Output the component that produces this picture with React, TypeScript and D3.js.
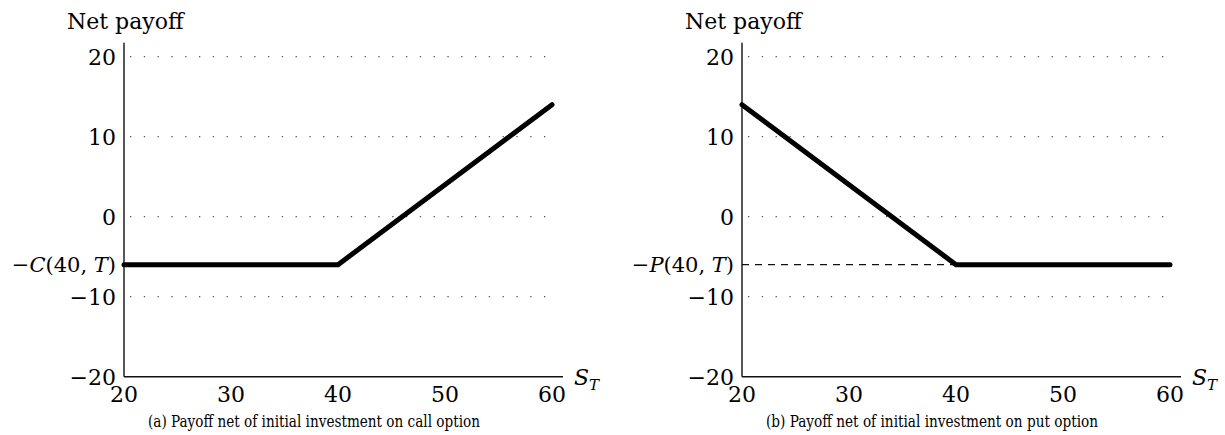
import React, { useEffect, useRef } from "react";
import * as d3 from "d3";

// Payoff data
const stockPrices = [20, 40, 60];
const callPayoff = [-6, -6, 14];
const putPayoff = [14, -6, -6];
const premiumLevel = -6;

const xTicks = [20, 30, 40, 50, 60];
const yTicks = [20, 10, 0, -10, -20];
const gridValues = [20, 10, 0, -10];

const panels = [
    {
        key: "call",
        left: 124,
        payoff: callPayoff,
        premiumLabel: "C",
        dashed: false,
        caption: "(a) Payoff net of initial investment on call option",
    },
    {
        key: "put",
        left: 742,
        payoff: putPayoff,
        premiumLabel: "P",
        dashed: true,
        caption: "(b) Payoff net of initial investment on put option",
    },
];

const FONT = "'DejaVu Serif', serif";
const CAPTION_FONT = "'DejaVu Serif Condensed', 'DejaVu Serif', serif";

const App: React.FC = () => {
    const svgRef = useRef<SVGSVGElement>(null);

    const width = 1225;
    const height = 435;
    const plotWidth = 428;
    const top = 56.7;
    const bottom = 376.7;

    useEffect(() => {
        if (!svgRef.current) return;

        d3.select(svgRef.current).selectAll("*").remove();
        const svg = d3.select(svgRef.current);

        const yScale = d3.scaleLinear().domain([-20, 20]).range([bottom, top]);

        panels.forEach((p) => {
            const xScale = d3
                .scaleLinear()
                .domain([20, 60])
                .range([p.left, p.left + plotWidth]);

            const g = svg.append("g").attr("class", p.key);

            // dotted grid lines
            g.selectAll(".grid")
                .data(gridValues)
                .enter()
                .append("line")
                .attr("x1", xScale(20) + 6)
                .attr("x2", xScale(60) - 4)
                .attr("y1", (d) => yScale(d))
                .attr("y2", (d) => yScale(d))
                .attr("stroke", "#555")
                .attr("stroke-width", 1.3)
                .attr("stroke-dasharray", "1.3 12.5");

            // axes
            g.append("line")
                .attr("x1", xScale(20))
                .attr("x2", xScale(20))
                .attr("y1", yScale(-20))
                .attr("y2", top - 14)
                .attr("stroke", "#111")
                .attr("stroke-width", 1.4);
            g.append("line")
                .attr("x1", xScale(20))
                .attr("x2", xScale(60) + 11)
                .attr("y1", yScale(-20))
                .attr("y2", yScale(-20))
                .attr("stroke", "#111")
                .attr("stroke-width", 1.4);

            // y tick labels
            g.selectAll(".ylab")
                .data(yTicks)
                .enter()
                .append("text")
                .attr("x", xScale(20) - 8)
                .attr("y", (d) => yScale(d))
                .attr("dy", "0.36em")
                .attr("text-anchor", "end")
                .attr("font-family", FONT)
                .attr("font-size", 22)
                .text((d) => (d < 0 ? `\u2212${-d}` : `${d}`));

            // x tick labels
            g.selectAll(".xlab")
                .data(xTicks)
                .enter()
                .append("text")
                .attr("x", (d) => xScale(d))
                .attr("y", 402)
                .attr("text-anchor", "middle")
                .attr("font-family", FONT)
                .attr("font-size", 22)
                .text((d) => `${d}`);

            // premium label, e.g. -C(40, T)
            const prem = g
                .append("text")
                .attr("x", xScale(20) - 8)
                .attr("y", yScale(premiumLevel))
                .attr("dy", "0.36em")
                .attr("text-anchor", "end")
                .attr("font-family", FONT)
                .attr("font-size", 21);
            prem.append("tspan").text("\u2212");
            prem.append("tspan").attr("font-style", "italic").text(p.premiumLabel);
            prem.append("tspan").text("(40, ");
            prem.append("tspan").attr("font-style", "italic").text("T");
            prem.append("tspan").text(")");

            // dashed premium reference for the put
            if (p.dashed) {
                g.append("line")
                    .attr("x1", xScale(20))
                    .attr("x2", xScale(40))
                    .attr("y1", yScale(premiumLevel))
                    .attr("y2", yScale(premiumLevel))
                    .attr("stroke", "#111")
                    .attr("stroke-width", 1.2)
                    .attr("stroke-dasharray", "7 6");
            }

            // payoff line
            const line = d3
                .line<number>()
                .x((_, i) => xScale(stockPrices[i]))
                .y((d) => yScale(d));
            g.append("path")
                .datum(p.payoff)
                .attr("d", line)
                .attr("fill", "none")
                .attr("stroke", "#000")
                .attr("stroke-width", 5)
                .attr("stroke-linecap", "round")
                .attr("stroke-linejoin", "miter");

            // axis titles
            g.append("text")
                .attr("x", xScale(20) - 57)
                .attr("y", 29)
                .attr("font-family", FONT)
                .attr("font-size", 22)
                .text("Net payoff");

            const st = g
                .append("text")
                .attr("x", xScale(60) + 22)
                .attr("y", 385)
                .attr("font-family", FONT)
                .attr("font-size", 22);
            st.append("tspan").attr("font-style", "italic").text("S");
            st.append("tspan")
                .attr("font-style", "italic")
                .attr("font-size", 15)
                .attr("dy", 5)
                .text("T");

            // caption
            g.append("text")
                .attr("x", xScale(20) + 190)
                .attr("y", 427)
                .attr("text-anchor", "middle")
                .attr("font-family", CAPTION_FONT)
                .attr("font-size", 16)
                .attr("textLength", 332)
                .attr("lengthAdjust", "spacingAndGlyphs")
                .text(p.caption);
        });
    }, []);

    return (
        <svg
            ref={svgRef}
            width={width}
            height={height}
            style={{ position: "absolute", left: 0, top: 0, background: "#fff" }}
        />
    );
};

export default App;
